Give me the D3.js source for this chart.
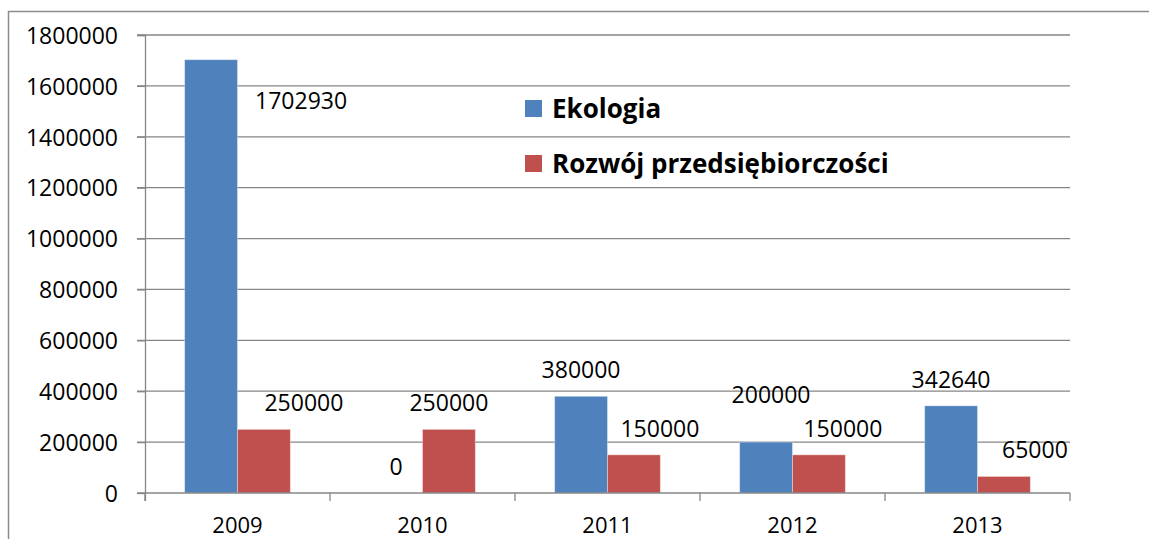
<!DOCTYPE html>
<html>
<head>
<meta charset="utf-8">
<script src="https://cdn.jsdelivr.net/npm/d3@7"></script>
<style>
  body { margin: 0; background: #fff; }
  text { font-family: "Open Sans", Lato, sans-serif; fill: #000; }
</style>
</head>
<body>
<div id="chart"></div>
<script>
// data
var years = ["2009", "2010", "2011", "2012", "2013"];
var ekologia = [1702930, 0, 380000, 200000, 342640];
var rozwoj = [250000, 250000, 150000, 150000, 65000];
var seriesNames = ["Ekologia", "Rozwój przedsiębiorczości"];
var yTicks = [0, 200000, 400000, 600000, 800000, 1000000, 1200000, 1400000, 1600000, 1800000];
// label nudges (pixels) the way they were moved by hand in the original
var ekoShift = [[90, 67], [0, 0], [0, 0], [5, -21], [0, 0]];
var rozShift = [[40, 0], [0, 0], [26, 0], [24, 0], [31, 0]];

var colors = ["#4F81BD", "#C0504D"];

var svgWidth = 1149, svgHeight = 539;
var margin = {top: 35, right: 79, bottom: 46, left: 145};
var width = svgWidth - margin.left - margin.right;
var height = svgHeight - margin.top - margin.bottom;

var svg = d3.select("#chart").append("svg")
  .attr("width", svgWidth)
  .attr("height", svgHeight);

// outer chart border (only left and top visible in the crop)
svg.append("path")
  .attr("d", "M8.5,539 V11.5 H1149")
  .attr("fill", "none")
  .attr("stroke", "#8c8c8c")
  .attr("stroke-width", 1.5);

var chartGroup = svg.append("g")
  .attr("transform", `translate(${margin.left}, ${margin.top})`);

var x0 = d3.scaleBand().domain(years).range([0, width]).paddingInner(0).paddingOuter(0);
var barW = x0.bandwidth() / 3.5;
var x1 = d3.scaleBand().domain([0, 1]).range([barW * 0.75, barW * 2.75]);
var y = d3.scaleLinear().domain([0, 1800000]).range([height, 0]);

// gridlines
chartGroup.selectAll(".grid")
  .data(yTicks.slice(1))
  .enter()
  .append("line")
  .attr("x1", -8)
  .attr("x2", width)
  .attr("y1", d => y(d))
  .attr("y2", d => y(d))
  .attr("stroke", "#868686")
  .attr("stroke-width", 1.3);

// y axis
var leftAxis = d3.axisLeft(y).tickValues(yTicks).tickSize(8).tickPadding(19).tickFormat(d3.format("d"));
var yAxis = chartGroup.append("g").call(leftAxis);
yAxis.select(".domain").attr("stroke", "#868686").attr("stroke-width", 1.3)
  .attr("d", `M-8,0.5H0.5V${height + 8}`);
yAxis.selectAll(".tick line").attr("stroke", "#868686").attr("stroke-width", 1.3);
yAxis.selectAll("text").style("font-size", "23px").attr("dy", "0.36em");

// bars
var groups = chartGroup.selectAll(".year")
  .data(years)
  .enter()
  .append("g")
  .attr("transform", d => `translate(${x0(d)},0)`);

var allSeries = [ekologia, rozwoj];
var shifts = [ekoShift, rozShift];

allSeries.forEach(function(vals, s) {
  groups.append("rect")
    .attr("x", x1(s))
    .attr("width", x1.bandwidth())
    .attr("y", (d, i) => y(vals[i]))
    .attr("height", (d, i) => height - y(vals[i]))
    .attr("fill", colors[s])
    .attr("stroke", "rgba(255,255,255,0.35)")
    .attr("stroke-width", 1);

  groups.append("text")
    .attr("x", (d, i) => x1(s) + x1.bandwidth() / 2 + shifts[s][i][0])
    .attr("y", (d, i) => y(vals[i]) - 18 + shifts[s][i][1])
    .attr("text-anchor", "middle")
    .style("font-size", "23px")
    .text((d, i) => vals[i]);
});

// x axis
var bottomAxis = d3.axisBottom(x0).tickSize(0).tickPadding(24);
var xAxis = chartGroup.append("g")
  .attr("transform", `translate(0, ${height})`)
  .call(bottomAxis);
xAxis.select(".domain").remove();
xAxis.selectAll("text").style("font-size", "22px");

chartGroup.append("line")
  .attr("x1", -8).attr("x2", width)
  .attr("y1", height).attr("y2", height)
  .attr("stroke", "#868686").attr("stroke-width", 1.3);

chartGroup.selectAll(".xtick")
  .data(years.concat(["end"]))
  .enter()
  .append("line")
  .attr("x1", (d, i) => i * x0.step())
  .attr("x2", (d, i) => i * x0.step())
  .attr("y1", height)
  .attr("y2", height + 8)
  .attr("stroke", "#868686")
  .attr("stroke-width", 1.3);

// legend
var legend = svg.append("g").attr("transform", "translate(525, 100)");
seriesNames.forEach(function(name, i) {
  var row = legend.append("g").attr("transform", `translate(0, ${i * 55})`);
  row.append("rect")
    .attr("width", 17).attr("height", 17)
    .attr("fill", colors[i]);
  row.append("text")
    .attr("x", 27)
    .attr("y", 18)
    .style("font-size", "26px")
    .style("font-weight", "bold")
    .text(name);
});
</script>
</body>
</html>
